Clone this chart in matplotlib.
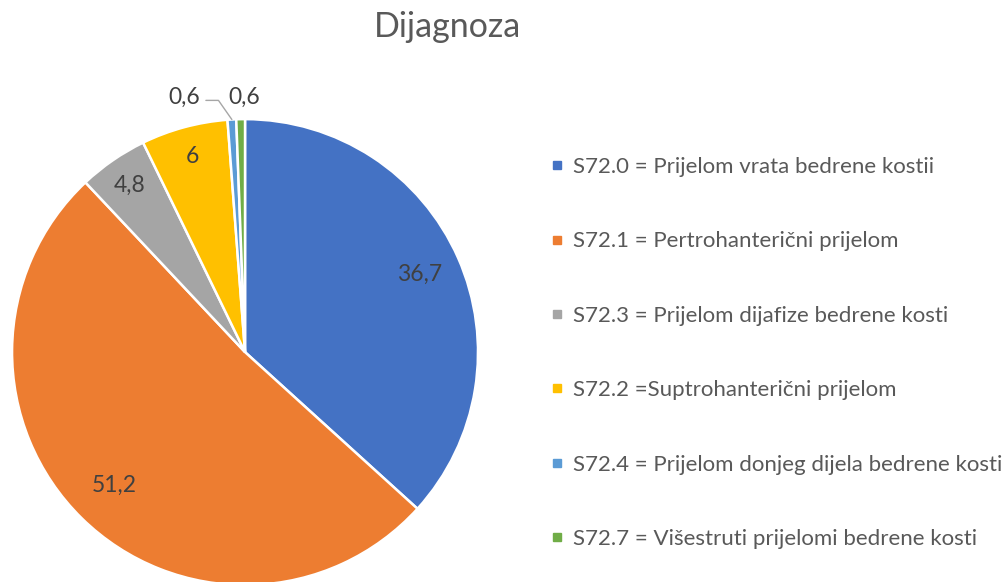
import numpy as np
import matplotlib
matplotlib.use('Agg')
import matplotlib.pyplot as plt
from matplotlib.lines import Line2D

plt.rcParams['font.family'] = ['Lato', 'DejaVu Sans']

# data
categories = ['S72.0 = Prijelom vrata bedrene kostii',
              'S72.1 = Pertrohanterični prijelom',
              'S72.3 = Prijelom dijafize bedrene kosti',
              'S72.2 =Suptrohanterični prijelom',
              'S72.4 = Prijelom donjeg dijela bedrene kosti',
              'S72.7 = Višestruti prijelomi bedrene kosti']
values = [36.7, 51.2, 4.8, 6.0, 0.6, 0.6]
colors = ['#4472C4', '#ED7D31', '#A5A5A5', '#FFC000', '#5B9BD5', '#70AD47']

fig = plt.figure(figsize=(10.03, 5.82), dpi=100)

ax = fig.add_axes([0.012, -0.0053, 0.4646, 0.8006])
wedges, _ = ax.pie(values, colors=colors, startangle=90, counterclock=False,
                   radius=1, wedgeprops=dict(edgecolor='white', linewidth=1.8))
ax.set_xlim(-1, 1)
ax.set_ylim(-1, 1)
ax.set_aspect('equal')
ax.axis('off')

def fmt(v):
    return ('%g' % v).replace('.', ',')

label_col = '#404040'
lab_fs = 16.5
inside_r = [0.82, 0.80, 0.87, 0.87]
for w, v, r in zip(wedges[:4], values[:4], inside_r):
    mid = np.deg2rad((w.theta1 + w.theta2) / 2)
    ax.text(r * np.cos(mid), r * np.sin(mid), fmt(v), ha='center', va='center',
            fontsize=lab_fs, color=label_col)

# the two tiny slices get outside labels
w = wedges[4]
mid = np.deg2rad((w.theta1 + w.theta2) / 2)
ax.annotate(fmt(values[4]), xy=(np.cos(mid), np.sin(mid)), xytext=(-0.26, 1.094),
            ha='center', va='center', fontsize=lab_fs, color=label_col,
            arrowprops=dict(arrowstyle='-', color='#A6A6A6', lw=1, shrinkA=2, shrinkB=0,
                            relpos=(1, 0.35), connectionstyle='angle,angleA=0,angleB=-55,rad=0'))
w = wedges[5]
ax.text(-0.005, 1.094, fmt(values[5]), ha='center', va='center', fontsize=lab_fs, color=label_col)

fig.text(0.446, 1 - 27 / 582, 'Dijagnoza', ha='center', va='center', fontsize=24.5, color='#595959')

handles = [Line2D([], [], marker='s', linestyle='none', markersize=6, color=c) for c in colors]
fig.legend(handles, categories, loc='center left', bbox_to_anchor=(550 / 1003, 229 / 582),
           frameon=False, fontsize=16, labelcolor='#595959', labelspacing=2.45,
           handlelength=0.6, handletextpad=0.45, borderpad=0, borderaxespad=0)

fig.savefig('out.png', dpi=100)
